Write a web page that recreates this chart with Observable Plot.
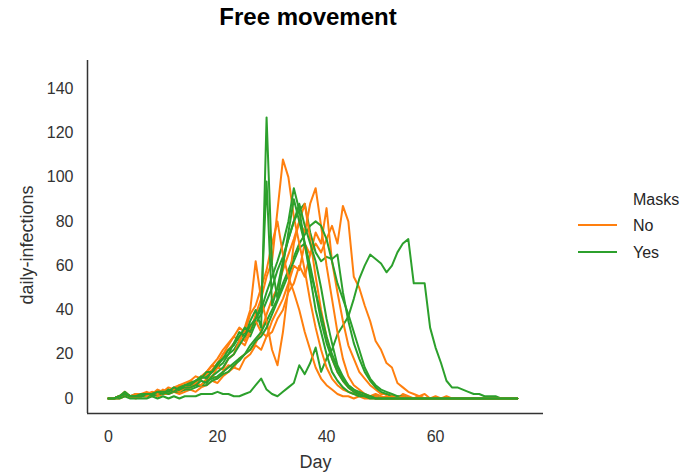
<!DOCTYPE html>
<html><head><meta charset="utf-8">
<script src="https://cdn.jsdelivr.net/npm/d3@7"></script>
<script src="https://cdn.jsdelivr.net/npm/@observablehq/plot@0.6"></script>
<style>
body{margin:0;background:#fff;font-family:"Liberation Sans",Arial,sans-serif;}
#wrap{position:relative;width:687px;height:475px;overflow:hidden;}
#chart{position:absolute;left:0;top:0;}
#title{position:absolute;left:0;top:4px;width:616px;text-align:center;font-weight:bold;font-size:24px;color:#000;line-height:26px;}
.lg{position:absolute;font-size:16px;color:#262626;line-height:18px;}
.sw{position:absolute;height:2px;width:39px;left:578px;}
</style></head><body>
<div id="wrap"><div id="chart"></div><div id="title">Free movement</div><div id="legend"></div></div>
<script>
const maskGroups = ["No", "Yes"];
const maskColors = ["#ff7f0e", "#2ca02c"];
const xTicks = [0, 20, 40, 60];
const yTicks = [0, 20, 40, 60, 80, 100, 120, 140];

const runNo1 = [0,0,1,2,1,1,1,2,2,3,2,3,4,3,5,
 5,7,6,9,10,14,13,18,20,26,24,30,38,45,55,
 62,85,108,100,82,70,58,44,32,22,14,9,6,4,3,
 2,2,1,1,1,0,1,0,0,1,0,0,0,0,0,
 0,0,0,0,0,0,0,0,0,0,0,0,0,0,0,0];
const runNo2 = [0,0,1,2,1,1,2,2,3,2,4,3,5,6,5,
 8,7,10,12,15,14,20,22,25,28,26,32,35,30,38,
 45,50,58,65,72,80,75,88,95,78,60,45,30,18,10,
 6,4,2,1,2,1,0,1,1,0,0,0,1,0,0,
 0,0,0,0,0,0,0,0,0,0,0,0,0,0,0,0];
const runNo3 = [0,0,0,1,1,0,1,1,2,1,2,2,3,2,3,
 4,3,5,6,8,7,10,12,14,13,18,20,24,22,28,
 30,36,40,48,52,60,55,65,70,66,72,78,70,87,80,
 55,50,42,35,26,22,16,14,7,5,3,2,1,2,0,
 1,0,1,0,0,0,0,0,0,0,0,0,0,0,0,0];
const runNo4 = [0,0,1,2,1,1,1,2,1,3,2,2,4,3,4,
 5,6,6,8,10,9,12,15,14,18,20,22,25,30,28,
 35,40,45,52,60,58,70,65,75,70,86,62,48,35,24,
 18,12,9,6,4,2,2,1,0,2,1,0,1,0,0,
 0,0,0,0,0,0,0,0,0,0,0,0,0,0,0,0];
const runNo5 = [0,0,1,2,1,2,2,3,2,4,3,5,4,6,7,
 8,10,9,12,15,18,22,25,28,26,32,40,62,45,35,
 22,15,30,50,70,80,88,72,55,40,28,18,12,8,5,
 3,2,1,1,0,0,1,0,0,0,0,0,0,0,0,
 0,0,0,0,0,0,0,0,0,0,0,0,0,0,0,0];
const runNo6 = [0,0,1,3,1,1,2,1,3,2,3,4,3,5,6,
 6,8,9,11,13,16,20,24,28,32,30,38,42,50,58,
 70,80,65,55,48,40,30,22,14,9,6,4,2,1,1,
 0,1,0,0,0,0,0,0,0,0,0,0,0,0,0,
 0,0,0,0,0,0,0,0,0,0,0,0,0,0,0,0];

const runYes1 = [0,0,1,3,1,1,1,2,2,3,2,4,3,5,6,
 7,8,10,9,12,15,18,20,25,30,28,35,40,32,127,
 60,45,60,75,90,80,70,55,40,30,20,12,8,5,3,
 2,1,1,0,0,0,0,0,0,0,0,0,0,0,0,
 0,0,0,0,0,0,0,0,0,0,0,0,0,0,0,0];
const runYes2 = [0,0,1,2,1,1,2,2,2,3,3,3,5,4,6,
 6,8,9,12,12,16,18,22,24,28,32,30,36,42,98,
 42,50,62,72,80,88,78,70,62,50,36,25,15,10,6,
 4,2,1,1,0,0,0,0,0,0,0,0,0,0,0,
 0,0,0,0,0,0,0,0,0,0,0,0,0,0,0,0];
const runYes3 = [0,0,1,2,1,1,1,1,2,2,3,2,3,4,5,
 5,6,8,7,10,12,14,18,20,24,28,33,36,40,48,
 55,62,70,80,95,85,70,58,48,35,25,18,12,8,5,
 3,2,1,1,0,0,0,0,0,0,0,0,0,0,0,
 0,0,0,0,0,0,0,0,0,0,0,0,0,0,0,0];
const runYes4 = [0,0,1,2,1,1,1,2,1,2,2,3,3,4,4,
 5,6,6,8,9,10,12,14,16,18,20,24,27,30,35,
 40,45,52,58,64,70,74,78,80,78,72,62,52,45,38,
 30,22,14,9,6,4,3,2,1,1,0,0,0,0,0,
 0,0,0,0,0,0,0,0,0,0,0,0,0,0,0,0];
const runYes5 = [0,0,1,2,1,2,1,2,2,3,3,3,4,5,5,
 6,7,9,10,12,14,16,20,22,26,30,28,34,38,44,
 50,58,64,72,80,85,88,75,66,62,64,63,65,48,35,
 25,18,12,8,5,3,2,1,1,0,0,0,0,0,0,
 0,0,0,0,0,0,0,0,0,0,0,0,0,0,0,0];
const runYes6 = [0,0,0,1,0,0,0,0,1,0,1,0,1,0,1,
 1,1,2,2,2,3,2,2,1,1,2,3,6,9,4,
 2,1,3,5,7,15,11,16,23,12,18,22,29,33,37,
 45,54,60,65,63,61,57,60,66,70,72,52,52,52,32,
 23,16,8,5,5,4,3,2,2,1,1,1,0,0,0,0];
const runYes7 = [0,0,1,2,1,1,1,1,2,2,2,3,3,3,4,
 4,5,6,6,8,9,11,12,15,17,20,22,26,28,32,
 38,44,50,56,62,68,70,60,48,38,28,20,14,9,6,
 4,3,2,1,1,0,0,0,0,0,0,0,0,0,0,
 0,0,0,0,0,0,0,0,0,0,0,0,0,0,0,0];

// drawing order (interleaved)
const runs = [
  ["No", runNo3], ["Yes", runYes6], ["No", runNo4], ["Yes", runYes5],
  ["No", runNo2], ["Yes", runYes4], ["No", runNo5], ["Yes", runYes7],
  ["No", runNo1], ["Yes", runYes3], ["No", runNo6], ["Yes", runYes2],
  ["Yes", runYes1]
];

const xDomain = [-3.85, 79.8];
const yDomain = [-6.8, 152.7];

const marks = [];
runs.forEach(([mask, vals]) => {
  const rows = vals.map((v, i) => ({day: i, value: v, masks: mask}));
  marks.push(Plot.line(rows, {x: "day", y: "value", stroke: "masks", strokeWidth: 2}));
});

const chart = Plot.plot({
  width: 687,
  height: 475,
  marginLeft: 87,
  marginRight: 144,
  marginTop: 60,
  marginBottom: 62,
  style: {fontFamily: '"Liberation Sans", Arial, sans-serif', background: "#fff"},
  x: {domain: xDomain},
  y: {domain: yDomain},
  color: {domain: maskGroups, range: maskColors},
  marks: [
    ...marks,
    Plot.ruleX([xDomain[0]], {stroke: "#333", strokeWidth: 1.5}),
    Plot.ruleY([yDomain[0]], {stroke: "#333", strokeWidth: 1.5}),
    Plot.axisX({ticks: xTicks, tickSize: 0, tickPadding: 17, fontSize: 16, label: null, fill: "#333"}),
    Plot.axisY({ticks: yTicks, tickSize: 0, tickPadding: 14, fontSize: 16, label: null, fill: "#333"}),
    Plot.text(["Day"], {frameAnchor: "bottom", dy: 49, lineAnchor: "middle", fontSize: 18, fill: "#333"}),
    Plot.text(["daily-infections"], {frameAnchor: "left", dx: -60, dy: 8, textAnchor: "middle", rotate: -90, fontSize: 18, fill: "#333"})
  ]
});
document.getElementById("chart").appendChild(chart);

const legend = document.getElementById("legend");
const addText = (t, top) => { const d = document.createElement("div"); d.className = "lg"; d.textContent = t; d.style.left = "633px"; d.style.top = top + "px"; legend.appendChild(d); };
addText("Masks", 191);
maskGroups.forEach((m, i) => {
  const s = document.createElement("div"); s.className = "sw"; s.style.background = maskColors[i]; s.style.top = (224 + i * 27) + "px"; legend.appendChild(s);
  addText(m, 217 + i * 27);
});
</script>
</body></html>
